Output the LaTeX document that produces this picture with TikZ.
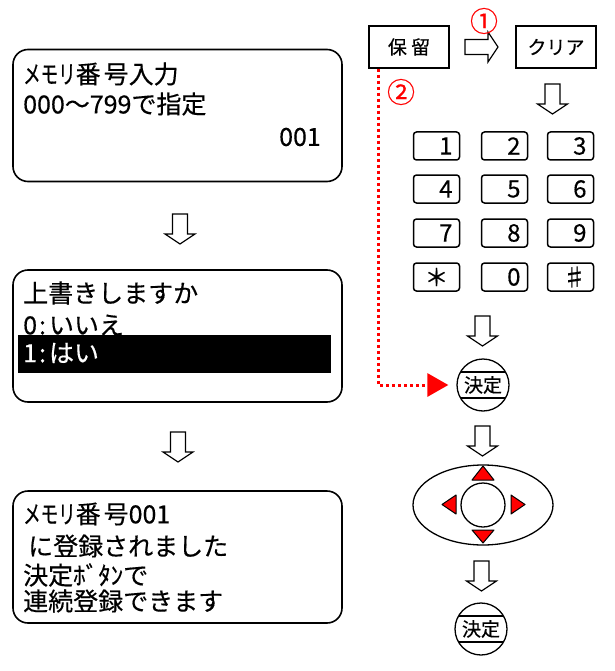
\documentclass[tikz,border=0pt]{standalone}
\usepackage{fontspec}
\setmainfont[FakeBold=0.4]{Noto Sans CJK JP}
\usepackage{tikz}
\usetikzlibrary{positioning,calc,shapes.geometric,arrows.meta}

\newcommand{\kana}[1]{\scalebox{0.7}[1]{#1}}

\tikzset{
  darr/.pic={\draw[line width=1.2pt] (-7.5,0) -- (7.5,0) -- (7.5,20) -- (15,20) -- (0,30) -- (-15,20) -- (-7.5,20) -- cycle;},
  rarr/.pic={\draw[line width=1.2pt] (0,-7.5) -- (23,-7.5) -- (23,-15) -- (33,0) -- (23,15) -- (23,7.5) -- (0,7.5) -- cycle;}
}

\begin{document}
\begin{tikzpicture}[x=1pt,y=-1pt,
  lcd/.style={draw,line width=1.6pt,rounded corners=15pt,minimum width=329pt,minimum height=132pt},
  ln/.style={anchor=west,inner sep=0pt,font=\fontsize{25}{25}\selectfont},
  btn/.style={draw,line width=1.5pt,minimum width=80pt,minimum height=42pt,font=\fontsize{19}{19}\selectfont},
  keycap/.style={draw,line width=1.5pt,rounded corners=3pt,minimum width=46pt,minimum height=28pt,
    text width=32pt,align=right,inner sep=0pt,font=\fontsize{24}{24}\selectfont},
  okbtn/.style={circle,draw,line width=1.3pt,minimum size=52pt,inner sep=0pt,font=\fontsize{19}{19}\selectfont,
    path picture={
      \draw[line width=1.3pt] ([yshift=13pt]path picture bounding box.west) -- ([yshift=13pt]path picture bounding box.east);
      \draw[line width=1.3pt] ([yshift=-13pt]path picture bounding box.west) -- ([yshift=-13pt]path picture bounding box.east);}},
  num/.style={red,inner sep=0pt,font=\fontsize{28}{28}\selectfont},
  tri/.style={fill=red,draw=black,line width=1pt,line join=round}]
  \useasboundingbox (0,0) rectangle (614,671);

  % screens
  \node[lcd] (scr1) at (177.5,115.5) {};
  \node[lcd] (scr2) at (177.5,336) {};
  \node[lcd] (scr3) at (177.5,557) {};
  \node[ln] (t1a) at (23,74) {\kana{メモリ}番\hspace{3pt}号入力};
  \node[ln] (t1b) at (23,104) {000～799で指定};
  \node[ln,anchor=east] (t1c) at (321,137) {001};
  \node[ln] (t2a) at (23,293) {上書きしますか};
  \node[ln] (t2b) at (23,325) {0\hspace{2pt}:\hspace{3pt}いいえ};
  \node[fill,anchor=north west,minimum width=313pt,minimum height=38pt,inner sep=0pt] (bar) at (18,335) {};
  \node[ln,white] (t2c) at (23,353) {1\hspace{2pt}:\hspace{3pt}はい};
  \node[ln] (t3a) at (23,514) {\kana{メモリ}番\hspace{3pt}号001};
  \node[ln] (t3b) at (23,546) {\hspace*{5pt}に登録されました};
  \node[ln] (t3c) at (23,575) {決定ﾎﾞﾀﾝで};
  \node[ln] (t3d) at (23,601) {連続登録できます};
  \pic at (180,214) {darr};
  \pic at (178,432) {darr};

  % buttons
  \node[btn] (hold) at (409,47) {保 留};
  \node[btn] (clear) at (556,47) {クリア};
  \pic at (465,47) {rarr};
  \node[num] (n1) at (484,21) {①};
  \node[num] (n2) at (401,92) {②};
  \pic at (552.5,84) {darr};

  % keypad
  \node[keycap] (k1) at (436.5,146) {1};
  \node[keycap] (k2) at (504.5,146) {2};
  \node[keycap] (k3) at (570.5,146) {3};
  \node[keycap] (k4) at (436.5,189) {4};
  \node[keycap] (k5) at (504.5,189) {5};
  \node[keycap] (k6) at (570.5,189) {6};
  \node[keycap] (k7) at (436.5,233) {7};
  \node[keycap] (k8) at (504.5,233) {8};
  \node[keycap] (k9) at (570.5,233) {9};
  \node[keycap,align=center] (kstar) at (436.5,277) {＊};
  \node[keycap] (k0) at (504.5,277) {0};
  \node[keycap] (khash) at (570.5,277) {♯};
  \pic at (482.5,316) {darr};

  \node[okbtn] (ok1) at (483,385) {決定};
  \draw[red,line width=3pt,dash pattern=on 3pt off 3pt,-{Triangle[length=21pt,width=23pt]},shorten >=8pt]
    ($(hold.south west)+(10,0)$) |- (ok1.west);
  \pic at (482.5,426) {darr};

  % cursor pad
  \node[ellipse,draw,line width=1.3pt,minimum width=140pt,minimum height=80pt] (pad) at (483,505) {};
  \node[circle,draw,line width=1.3pt,minimum size=44pt] (hub) at (483,505) {};
  \draw[tri] (483,466) -- (494,480) -- (472,480) -- cycle;
  \draw[tri] (472,530) -- (494,530) -- (483,543) -- cycle;
  \draw[tri] (442,504.5) -- (456,495) -- (456,514) -- cycle;
  \draw[tri] (511,495) -- (525,504.5) -- (511,514) -- cycle;
  \pic at (481.5,561) {darr};

  \node[okbtn] (ok2) at (481,629) {決定};
\end{tikzpicture}
\end{document}
